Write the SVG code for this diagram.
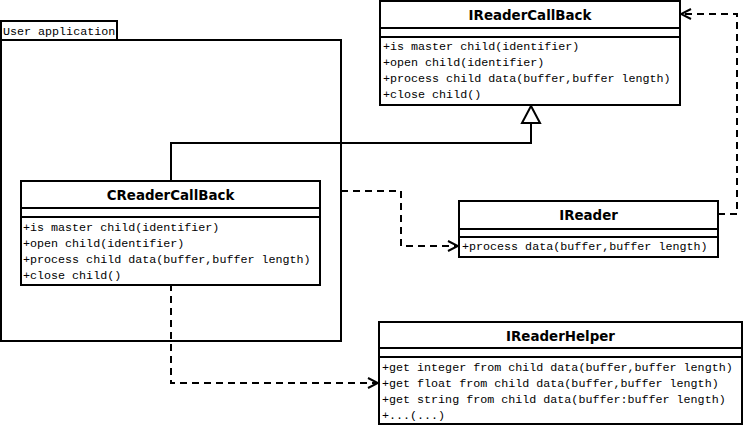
<svg xmlns="http://www.w3.org/2000/svg" width="743" height="425" viewBox="0 0 743 425">
<style>
.box{fill:#fff;stroke:#000;stroke-width:2}
.ln{stroke:#000;stroke-width:2;fill:none}
.dash{stroke:#000;stroke-width:2;fill:none;stroke-dasharray:7,5}
.t{font-family:"DejaVu Sans",sans-serif;font-weight:bold;font-size:13.4px;text-anchor:middle}
.m{font-family:"Liberation Mono",monospace;font-size:11.7px}
</style>
<defs>
<marker id="open" markerWidth="12" markerHeight="12" refX="11" refY="6" orient="auto" markerUnits="userSpaceOnUse">
<path d="M1,1 L11,6 L1,11" fill="none" stroke="#000" stroke-width="2"/>
</marker>
</defs>
<g id="package">
<rect class="box" x="1" y="21" width="116" height="19"/>
<rect class="box" x="1" y="40" width="340" height="301"/>
<text class="m" x="3" y="35">User application</text>
</g>
<g id="connectors">
<polyline class="ln" points="171,181 171,143 531,143 531,123"/>
<polygon points="531,106 522,123 540,123" fill="#fff" stroke="#000" stroke-width="2"/>
<polyline class="dash" points="341,191 401,191 401,246 458,246" marker-end="url(#open)"/>
<polyline class="dash" points="718,214 737,214 737,14 681,14" marker-end="url(#open)"/>
<polyline class="dash" points="171,284 171,383 378,383" marker-end="url(#open)"/>
</g>
<g id="IReaderCallBack">
<rect class="box" x="380" y="1" width="300" height="104"/>
<line class="ln" x1="380" y1="28" x2="680" y2="28"/>
<line class="ln" x1="380" y1="37" x2="680" y2="37"/>
<text class="t" x="530" y="20">IReaderCallBack</text>
<text class="m" x="383" y="50">+is master child(identifier)</text>
<text class="m" x="383" y="66">+open child(identifier)</text>
<text class="m" x="383" y="82">+process child data(buffer,buffer length)</text>
<text class="m" x="383" y="98">+close child()</text>
</g>
<g id="CReaderCallBack">
<rect class="box" x="21" y="181" width="299" height="104"/>
<line class="ln" x1="21" y1="208" x2="320" y2="208"/>
<line class="ln" x1="21" y1="217" x2="320" y2="217"/>
<text class="t" x="170.5" y="200">CReaderCallBack</text>
<text class="m" x="23" y="231">+is master child(identifier)</text>
<text class="m" x="23" y="247">+open child(identifier)</text>
<text class="m" x="23" y="263">+process child data(buffer,buffer length)</text>
<text class="m" x="23" y="279">+close child()</text>
</g>
<g id="IReader">
<rect class="box" x="459" y="201" width="259" height="56"/>
<line class="ln" x1="459" y1="229" x2="718" y2="229"/>
<line class="ln" x1="459" y1="237" x2="718" y2="237"/>
<text class="t" x="588.5" y="220">IReader</text>
<text class="m" x="462" y="250">+process data(buffer,buffer length)</text>
</g>
<g id="IReaderHelper">
<rect class="box" x="379" y="322" width="363" height="102"/>
<line class="ln" x1="379" y1="348" x2="742" y2="348"/>
<line class="ln" x1="379" y1="357" x2="742" y2="357"/>
<text class="t" x="560.5" y="341">IReaderHelper</text>
<text class="m" x="382" y="371">+get integer from child data(buffer,buffer length)</text>
<text class="m" x="382" y="387">+get float from child data(buffer,buffer length)</text>
<text class="m" x="382" y="403">+get string from child data(buffer:buffer length)</text>
<text class="m" x="382" y="419">+...(...)</text>
</g>
</svg>
